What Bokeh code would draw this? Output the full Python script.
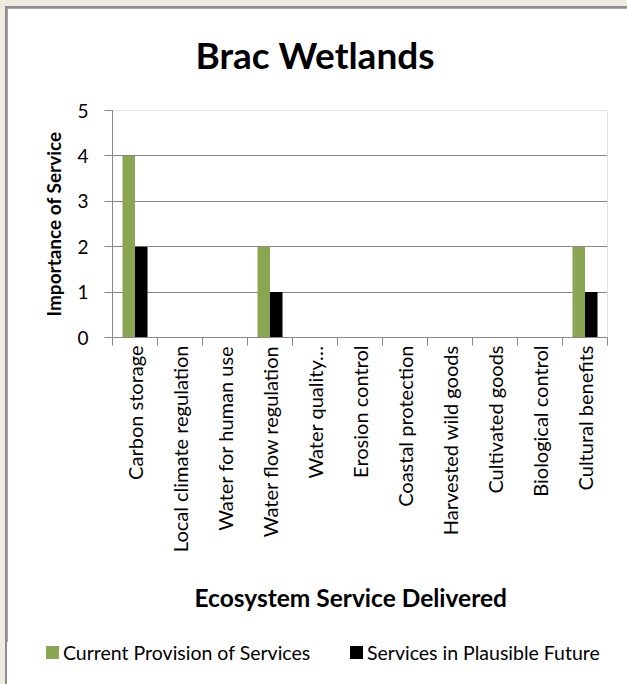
import math
from bokeh.plotting import figure
from bokeh.layouts import column
from bokeh.models import (ColumnDataSource, Range1d, LinearAxis, FixedTicker, Title, Div,
                          CustomJSTickFormatter)
from bokeh.transform import dodge
from bokeh.embed import file_html
from bokeh.resources import INLINE

# ---- data ----
categories = ["Carbon storage", "Local climate regulation", "Water for human use",
              "Water flow regulation", "Water quality…", "Erosion control",
              "Coastal protection", "Harvested wild goods", "Cultivated goods",
              "Biological control", "Cultural benefits"]
current = [4, 0, 0, 2, 0, 0, 0, 0, 0, 0, 2]
future = [2, 0, 0, 1, 0, 0, 0, 0, 0, 0, 1]
series_names = ["Current Provision of Services", "Services in Plausible Future"]
y_ticks = [0, 1, 2, 3, 4, 5]
title_text = "Brac Wetlands"
x_title = "Ecosystem Service Delivered"
y_title = "Importance of Service"

GREEN = "#8BA653"
BLACK = "#000000"
GRID = "#878787"
FONT = "Lato"
BEIGE = "#EEECE1"
FRAME_GRAY = "#8C8C8C"

n = len(categories)
centers = [i + 0.5 for i in range(n)]
src = ColumnDataSource(data=dict(x=centers, current=current, future=future))

p = figure(width=620, height=634, x_range=Range1d(0, n), y_range=Range1d(0, 5),
           output_backend="svg", toolbar_location=None, x_axis_location=None,
           min_border_left=105, min_border_right=20, min_border_top=102, min_border_bottom=305,
           margin=(2, 0, 0, 2))
p.outline_line_color = None
p.background_fill_color = "white"
p.border_fill_color = "white"

# spacer between frame and chart title
p.add_layout(Title(text=" ", text_font_size="1px", standoff=29), "above")

p.title.text = title_text
p.title.align = "left"
p.title.offset = 83
p.title.text_font = FONT
p.title.text_font_style = "bold"
p.title.text_font_size = "37px"
p.title.text_color = "black"
p.title.vertical_align = "bottom"
p.title.standoff = 4

r1 = p.vbar(x=dodge("x", -0.139), top="current", width=0.278, source=src,
            fill_color=GREEN, line_color=None)
r2 = p.vbar(x=dodge("x", 0.139), top="future", width=0.278, source=src,
            fill_color=BLACK, line_color=None)

# y axis
ya = p.yaxis[0]
ya.ticker = FixedTicker(ticks=y_ticks)
ya.axis_line_color = GRID
ya.major_tick_line_color = GRID
ya.major_tick_out = 8
ya.major_tick_in = 0
ya.minor_tick_line_color = None
ya.major_label_text_font = FONT
ya.major_label_text_font_size = "19px"
ya.major_label_text_color = "black"
ya.major_label_standoff = 16
ya.axis_label = y_title
ya.axis_label_text_font = FONT
ya.axis_label_text_font_style = "bold"
ya.axis_label_text_font_size = "19px"
ya.axis_label_text_color = "black"
ya.axis_label_standoff = 9

p.ygrid.ticker = FixedTicker(ticks=y_ticks)
p.ygrid.grid_line_color = GRID
p.xgrid.grid_line_color = None

# tick axis at category boundaries
tick_axis = LinearAxis(ticker=FixedTicker(ticks=list(range(n + 1))),
                       major_label_text_font_size="0px", major_label_standoff=0,
                       major_tick_out=8, major_tick_in=0, minor_tick_line_color=None,
                       axis_line_color=GRID, major_tick_line_color=GRID)
p.add_layout(tick_axis, "below")

# category label axis
cat_axis = LinearAxis(ticker=FixedTicker(ticks=centers),
                      formatter=CustomJSTickFormatter(args=dict(labels=categories),
                                                      code="return labels[Math.floor(tick)]"),
                      axis_line_color=None, major_tick_line_color=None, minor_tick_line_color=None,
                      major_tick_out=0, major_tick_in=0, major_label_orientation=math.pi / 2,
                      major_label_text_font=FONT, major_label_text_font_size="20px",
                      major_label_text_color="black", major_label_standoff=0)
p.add_layout(cat_axis, "below")

p.add_layout(Title(text=x_title, align="left", offset=82, vertical_align="top", standoff=54,
                   text_font=FONT, text_font_style="bold", text_font_size="24.5px",
                   text_color="black"), "below")

# legend strip (HTML)
legend_html = (
    f'<div style="position:relative;width:620px;height:42px;font-family:Lato;'
    f'font-size:19.5px;color:#000;">'
    f'<div style="position:absolute;left:39px;top:4px;width:13px;height:13px;background:{GREEN};"></div>'
    f'<div style="position:absolute;left:56px;top:0px;line-height:22px;white-space:nowrap;">{series_names[0]}</div>'
    f'<div style="position:absolute;left:343px;top:4px;width:13px;height:13px;background:{BLACK};"></div>'
    f'<div style="position:absolute;left:360px;top:0px;line-height:22px;white-space:nowrap;">{series_names[1]}</div>'
    f'</div>'
)
legend_div = Div(text=legend_html, width=620, height=42, margin=(0, 0, 0, 2),
                 styles={"background-color": "white"})

inner = column(p, legend_div, spacing=0, margin=(6, 0, 0, 5),
               styles={"background-color": FRAME_GRAY})
outer = column(inner, spacing=0, styles={"background-color": BEIGE})

open("out.html", "w").write(file_html(outer, INLINE))
